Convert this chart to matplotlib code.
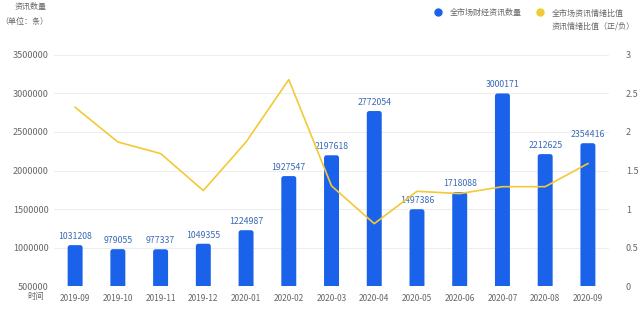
import matplotlib.pyplot as plt
import numpy as np
from matplotlib.lines import Line2D
from matplotlib.patches import FancyBboxPatch

plt.rcParams['font.family'] = ['Noto Sans CJK SC', 'DejaVu Sans']

months = ['2019-09', '2019-10', '2019-11', '2019-12', '2020-01', '2020-02', '2020-03',
          '2020-04', '2020-05', '2020-06', '2020-07', '2020-08', '2020-09']
news_count = [1031208, 979055, 977337, 1049355, 1224987, 1927547, 2197618,
              2772054, 1497386, 1718088, 3000171, 2212625, 2354416]
sentiment_ratio = [2.32, 1.87, 1.72, 1.24, 1.87, 2.68, 1.30,
                   0.81, 1.23, 1.20, 1.29, 1.29, 1.59]
left_ticks = [500000, 1000000, 1500000, 2000000, 2500000, 3000000, 3500000]
right_ticks = [0, 0.5, 1, 1.5, 2, 2.5, 3]
right_tick_labels = ['0', '0.5', '1', '1.5', '2', '2.5', '3']
legend_labels = ['全市场财经资讯数量', '全市场资讯情绪比值\n资讯情绪比值（正/负）']

bar_color = '#1A62EA'
line_color = '#F2C936'
label_color = '#3A6AB8'
tick_color = '#666666'

fig = plt.figure(figsize=(6.4, 3.14), dpi=100)
ax = fig.add_axes([0.084, 0.089, 0.868, 0.736])
x = np.arange(len(months))

ax.set_xlim(-0.5, len(months) - 0.5)
ax.set_ylim(500000, 3500000)

bars = ax.bar(x, news_count, width=0.35, color=bar_color, zorder=2)

# rounded bar corners: aspect from data units per pixel
bbox = ax.get_position()
px_w = bbox.width * fig.get_figwidth() * fig.dpi
px_h = bbox.height * fig.get_figheight() * fig.dpi
ux = (ax.get_xlim()[1] - ax.get_xlim()[0]) / px_w
uy = (ax.get_ylim()[1] - ax.get_ylim()[0]) / px_h
for b in bars:
    b.remove()
    ax.add_patch(FancyBboxPatch((b.get_x(), b.get_y()), b.get_width(), b.get_height(),
                                boxstyle='round,pad=0,rounding_size=%f' % (2.5 * ux),
                                mutation_aspect=uy / ux, facecolor=bar_color,
                                edgecolor='none', zorder=2))

for xi, v in zip(x, news_count):
    ax.annotate(str(v), (xi, v), xytext=(0, 3), textcoords='offset points',
                ha='center', va='bottom', fontsize=6.3, color=label_color)

ax.set_yticks(left_ticks)
ax.set_yticklabels([str(t) for t in left_ticks])
ax.set_xticks(x)
ax.set_xticklabels(months)
ax.grid(axis='y', color='#EEEEEE', linewidth=0.8, zorder=0)
ax.tick_params(axis='both', length=0, labelsize=6.5, colors=tick_color)
ax.tick_params(axis='x', pad=6, labelsize=6)
for s in ax.spines.values():
    s.set_visible(False)

ax2 = ax.twinx()
ax2.plot(x, sentiment_ratio, color=line_color, linewidth=1.2, zorder=3)
ax2.set_ylim(0, 3)
ax2.set_yticks(right_ticks)
ax2.set_yticklabels(right_tick_labels)
ax2.tick_params(axis='y', length=0, labelsize=6.5, colors=tick_color, pad=12)
for s in ax2.spines.values():
    s.set_visible(False)

# titles and axis names
fig.text(0.022, 0.978, '资讯数量', fontsize=5.8, color=tick_color, va='center')
fig.text(0.0, 0.93, '（单位：条）', fontsize=5.8, color=tick_color, va='center')
fig.text(0.042, 0.057, '时间', fontsize=6, color=tick_color, va='center')

# legend
fig.add_artist(Line2D([0.685], [0.961], marker='o', markersize=5, color=bar_color,
                      linestyle='none', transform=fig.transFigure))
fig.text(0.703, 0.961, legend_labels[0], fontsize=5.8, color=tick_color, va='center')
fig.add_artist(Line2D([0.844], [0.961], marker='o', markersize=5, color=line_color,
                      linestyle='none', transform=fig.transFigure))
fig.text(0.862, 0.937, legend_labels[1], fontsize=5.8, color=tick_color, va='center',
         linespacing=1.6)

fig.savefig('out.png', dpi=100)
